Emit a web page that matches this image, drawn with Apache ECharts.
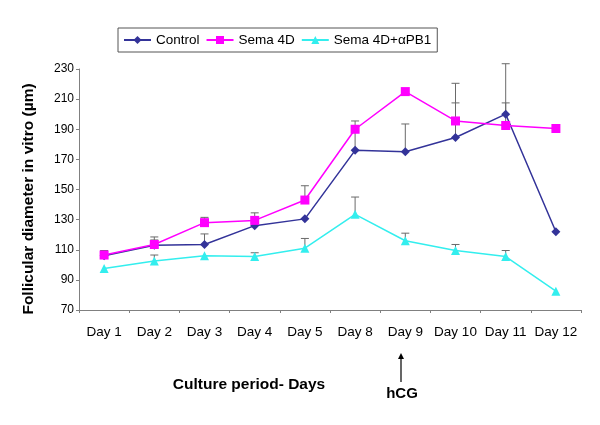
<!DOCTYPE html>
<html>
<head>
<meta charset="utf-8">
<script src="https://cdn.jsdelivr.net/npm/echarts@6/dist/echarts.min.js"></script>
<style>html,body{margin:0;padding:0;background:#fff}#c{width:600px;height:425px}</style>
</head>
<body>
<div id="c"></div>
<script>
var categories = ['Day 1','Day 2','Day 3','Day 4','Day 5','Day 8','Day 9','Day 10','Day 11','Day 12'];
var yTicks = [70, 90, 110, 130, 150, 170, 190, 210, 230];
var seriesNames = ['Control', 'Sema 4D', 'Sema 4D+\u03b1PB1'];
var control = [106, 113, 113.5, 126, 130.5, 176, 175, 184.5, 200, 122];
var sema = [106.5, 113.5, 128, 129.5, 143, 190, 215, 195.5, 192.5, 190.5];
var semaPB1 = [97.5, 102.5, 106, 105.5, 111, 133.5, 116, 109.5, 105.5, 82.5];
var controlErr = [null, 5.5, 7, null, null, 19.5, 18.5, 23, 33.5, null];
var semaErr = [3, 3, 3.5, 5, 9.5, null, null, 25, 15, null];
var semaPB1Err = [null, 4, null, 2.5, 6.5, 11.5, 5, 4, 4, null];

var FONT = 'Liberation Sans, Arial, sans-serif';

function errData(vals, errs) {
  var out = [];
  for (var i = 0; i < vals.length; i++) {
    if (errs[i] != null) out.push([i, vals[i], vals[i] + errs[i]]);
  }
  return out;
}
function errSeries(vals, errs) {
  return {
    type: 'custom',
    silent: true,
    z: 1,
    data: errData(vals, errs),
    renderItem: function (params, api) {
      var p0 = api.coord([api.value(0), api.value(1)]);
      var p1 = api.coord([api.value(0), api.value(2)]);
      var st = { stroke: '#6a6a6a', lineWidth: 1 };
      return {
        type: 'group',
        children: [
          { type: 'line', shape: { x1: p0[0], y1: p0[1], x2: p1[0], y2: p1[1] }, style: st },
          { type: 'line', shape: { x1: p1[0] - 4, y1: p1[1], x2: p1[0] + 4, y2: p1[1] }, style: st }
        ]
      };
    }
  };
}

var chart = echarts.init(document.getElementById('c'));
chart.setOption({
  backgroundColor: '#fff',
  animation: false,
  legend: {
    left: 118, top: 28,
    padding: [5, 6, 5, 5],
    itemGap: 6,
    itemWidth: 27, itemHeight: 10,
    borderColor: '#555', borderWidth: 1,
    textStyle: { fontFamily: FONT, fontSize: 13.5, color: '#000', padding: [0, 0, 0, 0] },
    data: seriesNames
  },
  grid: { left: 79, right: 19, top: 69, bottom: 115 },
  xAxis: {
    type: 'category',
    data: categories,
    boundaryGap: true,
    axisLine: { lineStyle: { color: '#808080', width: 1 } },
    axisTick: { show: true, length: 3, lineStyle: { color: '#808080' } },
    axisLabel: { fontFamily: FONT, fontSize: 13.5, color: '#000', margin: 15, interval: 0 }
  },
  yAxis: {
    type: 'value',
    min: yTicks[0], max: yTicks[yTicks.length - 1], interval: 20,
    splitLine: { show: false },
    axisLine: { show: true, lineStyle: { color: '#808080', width: 1 } },
    axisTick: { show: true, length: 3, lineStyle: { color: '#808080' } },
    axisLabel: { fontFamily: FONT, fontSize: 12, color: '#000', margin: 5 }
  },
  graphic: [
    { type: 'text', x: 29, y: 199, rotation: Math.PI / 2,
      style: { text: 'Follicular diameter in vitro (\u00b5m)', font: 'bold 15.5px ' + FONT, fill: '#000', align: 'center', verticalAlign: 'middle' } },
    { type: 'text', x: 249, y: 385,
      style: { text: 'Culture period- Days', font: 'bold 15.5px ' + FONT, fill: '#000', align: 'center', verticalAlign: 'middle' } },
    { type: 'text', x: 402, y: 394,
      style: { text: 'hCG', font: 'bold 15px ' + FONT, fill: '#000', align: 'center', verticalAlign: 'middle' } },
    { type: 'line', shape: { x1: 401, y1: 382, x2: 401, y2: 356 }, style: { stroke: '#000', lineWidth: 1.2 } },
    { type: 'polygon', shape: { points: [[401, 353], [398, 359], [404, 359]] }, style: { fill: '#000' } }
  ],
  series: [
    errSeries(control, controlErr),
    errSeries(sema, semaErr),
    errSeries(semaPB1, semaPB1Err),
    {
      name: seriesNames[0], type: 'line', data: control, z: 3,
      symbol: 'diamond', symbolSize: 9,
      lineStyle: { color: '#333399', width: 1.5 },
      itemStyle: { color: '#333399' }
    },
    {
      name: seriesNames[1], type: 'line', data: sema, z: 3,
      symbol: 'rect', symbolSize: 9,
      lineStyle: { color: '#FF00FF', width: 1.5 },
      itemStyle: { color: '#FF00FF' }
    },
    {
      name: seriesNames[2], type: 'line', data: semaPB1, z: 3,
      symbol: 'triangle', symbolSize: 9,
      lineStyle: { color: '#33EEEE', width: 1.5 },
      itemStyle: { color: '#33EEEE' }
    }
  ]
});
</script>
</body>
</html>
